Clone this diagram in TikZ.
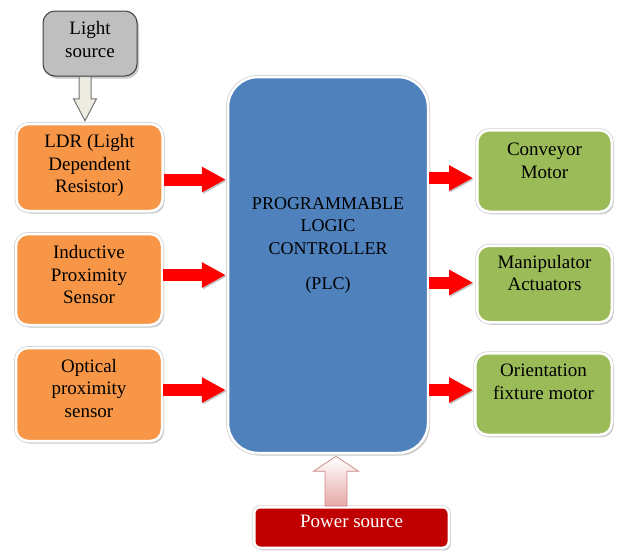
\documentclass[tikz,border=0pt]{standalone}
\usepackage{fontspec}
\setmainfont{Liberation Serif}
\usetikzlibrary{shadows,calc,arrows.meta}
\definecolor{boxorange}{HTML}{F79646}
\definecolor{boxgreen}{HTML}{9BBB59}
\definecolor{boxblue}{HTML}{4F81BD}
\definecolor{boxred}{HTML}{C00000}
\definecolor{boxgray}{HTML}{BFBFBF}
\definecolor{grayedge}{HTML}{404040}
\definecolor{lightfill}{HTML}{EEECE1}
\definecolor{powpink}{HTML}{E6A9A8}
\definecolor{powedge}{HTML}{D08684}
\begin{document}
\begin{tikzpicture}[x=1pt,y=-1pt,
  base/.style={rounded corners=12pt, draw=white, line width=2.5pt, align=center,
    inner sep=2pt, text=black, font=\fontsize{19}{22.5}\selectfont,
    drop shadow={shadow xshift=2pt, shadow yshift=-2.5pt, opacity=0.3, fill=black!70}},
  ring/.style={preaction={draw=black!18, line width=4pt}},
  inbox/.style={base, ring, fill=boxorange},
  outbox/.style={base, ring, fill=boxgreen},
  lightbox/.style={base, fill=boxgray, draw=grayedge, line width=1pt},
  plcbox/.style={base, ring, fill=boxblue, rounded corners=30pt, font=\fontsize{18}{22.5}\selectfont},
  powbox/.style={base, ring, fill=boxred, rounded corners=6pt, text=white},
  redarrow/.style={draw=red, line width=12pt, -{Triangle[width=24pt,length=24pt]},
    preaction={draw=black!70, opacity=0.35, transform canvas={shift={(1pt,-1.5pt)}}}},
  lightarrow/.style={fill=lightfill, draw=black!55, line width=1pt, line join=miter},
  powarrow/.style={top color=white, bottom color=powpink, draw=powedge, line width=0.8pt, line join=miter}
]
\useasboundingbox (0,0) rectangle (617,550);
\clip (0,0) rectangle (617,550);

% nodes
\node[lightbox, minimum width=94pt, minimum height=65pt, text depth=8pt] (light) at (90,43.5) {Light\\source};
\node[inbox, minimum width=146pt, minimum height=87pt, text depth=8pt] (ldr) at (89.5,167.5) {LDR (Light\\Dependent\\Resistor)};
\node[inbox, minimum width=146pt, minimum height=91pt, text depth=10pt] (ind) at (89,279.5) {Inductive\\Proximity\\Sensor};
\node[inbox, minimum width=146pt, minimum height=93pt, text depth=13pt] (opt) at (89,394.5) {Optical\\proximity\\sensor};
\node[plcbox, minimum width=200pt, minimum height=376pt, text depth=43pt] (plc) at (328,265) {PROGRAMMABLE\\LOGIC\\CONTROLLER\\[13pt](PLC)};
\node[outbox, minimum width=134.5pt, minimum height=81.5pt, text depth=21pt] (conv) at (544.5,171) {Conveyor\\Motor};
\node[outbox, minimum width=134.5pt, minimum height=76.5pt, text depth=22pt] (manip) at (544.5,284) {Manipulator\\Actuators};
\node[outbox, minimum width=136.5pt, minimum height=81.5pt, text depth=25pt] (orient) at (543.5,394) {Orientation\\fixture motor};
\node[powbox, minimum width=194.5pt, minimum height=40.5pt, text depth=12pt] (power) at (351.5,527.5) {Power source};

% input arrows
\draw[redarrow] ([yshift=-12pt]ldr.east) -- ([yshift=-12pt,xshift=-1pt]ldr.east -| plc.west);
\draw[redarrow] ([yshift=4.5pt]ind.east) -- ([yshift=4.5pt,xshift=-1pt]ind.east -| plc.west);
\draw[redarrow] ([yshift=4.5pt]opt.east) -- ([yshift=4.5pt,xshift=-1pt]opt.east -| plc.west);

% output arrows
\draw[redarrow] ([yshift=-7pt]conv.west -| plc.east) -- ([yshift=-7pt,xshift=-3pt]conv.west);
\draw[redarrow] ([yshift=1.5pt]manip.west -| plc.east) -- ([yshift=1.5pt,xshift=-3pt]manip.west);
\draw[redarrow] ([yshift=4pt]orient.west -| plc.east) -- ([yshift=4pt,xshift=-1pt]orient.west);

% light source arrow
\coordinate (la) at ([xshift=-5pt]light.south);
\coordinate (lb) at (la |- ldr.north);
\coordinate (lt) at ($(lb)+(0,-2)$);
\draw[lightarrow] ($(la)+(-6,0)$) -- ($(lt)+(-6,-22)$) -- ($(lt)+(-11.5,-22)$) -- (lt)
  -- ($(lt)+(11.5,-22)$) -- ($(lt)+(6,-22)$) -- ($(la)+(6,0)$) -- cycle;

% power arrow
\coordinate (pc) at ([xshift=-15.5pt]power.north);
\coordinate (pb) at (pc |- plc.south);
\coordinate (pt) at ($(pb)+(0,2)$);
\draw[powarrow] ($(pc)+(-11,0)$) -- ($(pt)+(-11,15)$) -- ($(pt)+(-22.5,15)$) -- (pt)
  -- ($(pt)+(22.5,15)$) -- ($(pt)+(11,15)$) -- ($(pc)+(11,0)$) -- cycle;
\end{tikzpicture}
\end{document}
